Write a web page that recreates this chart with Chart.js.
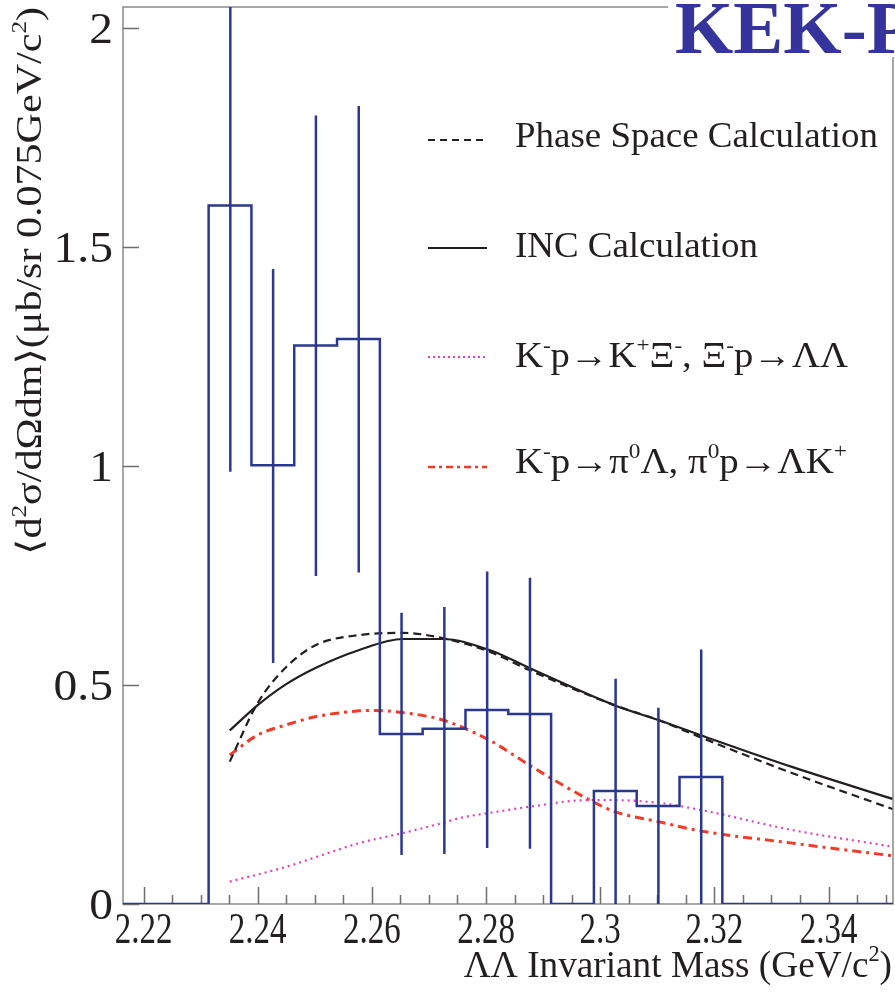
<!DOCTYPE html>
<html>
<head>
<meta charset="utf-8">
<script src="https://cdn.jsdelivr.net/npm/chart.js@4.4.1/dist/chart.umd.min.js"></script>
<style>
body { margin: 0; background: #fff; }
canvas { display: block; }
</style>
</head>
<body>
<canvas id="myChart" width="895" height="998"></canvas>
<script>
// axis ranges and ticks
const xMin = 2.2164, xMax = 2.3513;
const yMin = 0, yMax = 2.048;
const xTicks = [2.22, 2.24, 2.26, 2.28, 2.3, 2.32, 2.34];
const xTickLabels = ['2.22', '2.24', '2.26', '2.28', '2.3', '2.32', '2.34'];
const xMinorStep = 0.005;
const yTicks = [0, 0.5, 1, 1.5, 2];
const yTickLabels = ['0', '0.5', '1', '1.5', '2'];

// data histogram
const binEdges = [2.2314, 2.2389, 2.2464, 2.2539, 2.2614, 2.2689, 2.2764, 2.2839, 2.2914, 2.2989, 2.3064, 2.3139, 2.3214];
const binCenters = [2.2352, 2.2427, 2.2502, 2.2577, 2.2652, 2.2727, 2.2802, 2.2877, 2.2952, 2.3027, 2.3102, 2.3177];
const binValues = [1.595, 1.002, 1.275, 1.290, 0.388, 0.400, 0.443, 0.434, 0, 0.258, 0.224, 0.290];
const errLow = [0.987, 0.550, 0.749, 0.757, 0.112, 0.114, 0.128, 0.126, null, 0, 0, 0];
const errHigh = [2.21, 1.450, 1.800, 1.822, 0.665, 0.678, 0.759, 0.745, null, 0.514, 0.448, 0.581];

// calculations
const incX = [2.2351, 2.2400, 2.2450, 2.2503, 2.2578, 2.2654, 2.2724, 2.2806, 2.2876, 2.3025, 2.3102, 2.3175, 2.3336, 2.3512];
const incY = [0.396, 0.454, 0.502, 0.540, 0.580, 0.605, 0.605, 0.580, 0.539, 0.454, 0.420, 0.386, 0.313, 0.240];
const psX = [2.2351, 2.2400, 2.2450, 2.2503, 2.2578, 2.2654, 2.2724, 2.2806, 2.2876, 2.3025, 2.3102, 2.3175, 2.3336, 2.3512];
const psY = [0.325, 0.459, 0.541, 0.592, 0.614, 0.619, 0.607, 0.576, 0.534, 0.454, 0.420, 0.381, 0.299, 0.217];
const xiX = [2.2351, 2.2450, 2.2578, 2.2654, 2.2724, 2.2753, 2.2806, 2.2876, 2.2976, 2.3025, 2.3102, 2.3175, 2.3336, 2.3512];
const xiY = [0.051, 0.085, 0.139, 0.162, 0.185, 0.196, 0.208, 0.222, 0.237, 0.237, 0.231, 0.215, 0.169, 0.131];
const piX = [2.2351, 2.2400, 2.2450, 2.2503, 2.2578, 2.2604, 2.2654, 2.2724, 2.2806, 2.2876, 2.2975, 2.3025, 2.3102, 2.3175, 2.3336, 2.3512];
const piY = [0.340, 0.386, 0.409, 0.428, 0.441, 0.442, 0.437, 0.420, 0.374, 0.317, 0.242, 0.211, 0.188, 0.167, 0.139, 0.110];

const blue = '#2b3890';
const ink = '#231f20';
const serif = "'Liberation Serif', 'DejaVu Serif', serif";

function pts(xs, ys) {
  return xs.map((x, i) => ({x: x, y: ys[i]}));
}

// step line for the histogram
const histPoints = [{x: xMin, y: 0}];
binValues.forEach((v, i) => histPoints.push({x: binEdges[i], y: v}));
histPoints.push({x: binEdges[binEdges.length - 1], y: 0});
histPoints.push({x: xMax, y: 0});

// error bars, broken with nulls
const errPoints = [];
binCenters.forEach((c, i) => {
  if (errLow[i] === null) return;
  errPoints.push({x: c, y: errLow[i]}, {x: c, y: errHigh[i]}, {x: c, y: null});
});

function drawRich(ctx, segs, x, y, size, opt) {
  const weight = opt.bold ? 'bold ' : '';
  let w = 0;
  const parts = segs.map(s => {
    const sup = s[1] === 1;
    const fs = sup ? size * 0.6 : size;
    ctx.font = weight + fs + 'px ' + serif;
    const mw = ctx.measureText(s[0]).width;
    w += mw;
    return {t: s[0], fs: fs, mw: mw, dy: sup ? -size * 0.42 : 0};
  });
  let sx = opt.sx || 1;
  if (opt.width) sx = opt.width / w;
  ctx.save();
  ctx.translate(x, y);
  if (opt.rotate) ctx.rotate(opt.rotate);
  ctx.scale(sx, 1);
  let cx = opt.align === 'right' ? -w : opt.align === 'center' ? -w / 2 : 0;
  ctx.fillStyle = opt.color || ink;
  ctx.textAlign = 'left';
  ctx.textBaseline = 'alphabetic';
  parts.forEach(p => {
    ctx.font = weight + p.fs + 'px ' + serif;
    ctx.fillText(p.t, cx, p.dy);
    cx += p.mw;
  });
  ctx.restore();
}

const framePlugin = {
  id: 'frame',
  beforeDatasetsDraw(chart) {
    const ctx = chart.ctx, a = chart.chartArea;
    const xs = chart.scales.x, ys = chart.scales.y;
    ctx.save();
    ctx.strokeStyle = '#8a8a8a';
    ctx.lineWidth = 1.5;
    ctx.strokeRect(a.left, a.top, a.right - a.left, a.bottom - a.top);
    ctx.strokeStyle = '#6e6e6e';
    ctx.lineWidth = 1.5;
    ctx.beginPath();
    for (let t = xTicks[0]; t <= xMax + 1e-9; t += xMinorStep) {
      const px = Math.round(xs.getPixelForValue(t)) + 0.5;
      const major = xTicks.some(m => Math.abs(m - t) < 1e-6);
      ctx.moveTo(px, a.bottom);
      ctx.lineTo(px, a.bottom - (major ? 17 : 9));
    }
    yTicks.forEach(t => {
      const py = Math.round(ys.getPixelForValue(t)) + 0.5;
      ctx.moveTo(a.left, py);
      ctx.lineTo(a.left + 16, py);
    });
    ctx.stroke();
    ctx.restore();
  },
  afterDraw(chart) {
    const ctx = chart.ctx, a = chart.chartArea;
    const xs = chart.scales.x, ys = chart.scales.y;

    xTicks.forEach((t, i) => {
      drawRich(ctx, [[xTickLabels[i], 0]], xs.getPixelForValue(t), 943, 44, {align: 'center', sx: 0.75});
    });
    yTicks.forEach((t, i) => {
      drawRich(ctx, [[yTickLabels[i], 0]], 113, ys.getPixelForValue(t) + 15, 44, {align: 'right', sx: 1.08});
    });

    drawRich(ctx, [['ΛΛ Invariant Mass (GeV/c', 0], ['2', 1], [')', 0]], 892, 977, 38, {align: 'right', sx: 0.98});
    drawRich(ctx, [['⟨d', 0], ['2', 1], ['σ/dΩdm⟩(μb/sr 0.075GeV/c', 0], ['2', 1], [')', 0]],
      41, 555, 35, {rotate: -Math.PI / 2, width: 548});

    // legend
    const lx0 = 428, lx1 = 487, tx = 515;
    const items = [
      {y: 140, color: ink, dash: [7, 5], w: 2.2, ty: 147, width: 363,
        segs: [['Phase Space Calculation', 0]]},
      {y: 248, color: ink, dash: [], w: 2.2, ty: 257, width: 243,
        segs: [['INC Calculation', 0]]},
      {y: 357, color: '#e040c0', dash: [2, 3], w: 2, ty: 367, width: 333,
        segs: [['K', 0], ['-', 1], ['p→K', 0], ['+', 1], ['Ξ', 0], ['-', 1], [', Ξ', 0], ['-', 1], ['p→ΛΛ', 0]]},
      {y: 467, color: '#ee3b2a', dash: [7, 4, 3, 4], w: 2.5, ty: 473, width: 332,
        segs: [['K', 0], ['-', 1], ['p→π', 0], ['0', 1], ['Λ, π', 0], ['0', 1], ['p→ΛK', 0], ['+', 1]]}
    ];
    items.forEach(it => {
      ctx.save();
      ctx.strokeStyle = it.color;
      ctx.lineWidth = it.w;
      ctx.setLineDash(it.dash);
      ctx.beginPath();
      ctx.moveTo(lx0, it.y);
      ctx.lineTo(lx1, it.y);
      ctx.stroke();
      ctx.restore();
      drawRich(ctx, it.segs, tx, it.ty, 36, {width: it.width});
    });

    // experiment tag over the frame corner
    ctx.save();
    ctx.fillStyle = '#fff';
    ctx.fillRect(668, 0, 227, 57);
    ctx.restore();
    drawRich(ctx, [['KEK-P', 0]], 675, 53, 75, {bold: true, color: '#34349c'});
  }
};

const config = {
  type: 'line',
  data: {
    datasets: [
      {label: 'data', data: histPoints, stepped: 'before', borderColor: blue, borderWidth: 2.5, pointRadius: 0, fill: false},
      {label: 'errors', data: errPoints, borderColor: blue, borderWidth: 2.5, pointRadius: 0, spanGaps: false, fill: false},
      {label: 'Phase Space Calculation', data: pts(psX, psY), borderColor: ink, borderWidth: 2.2, borderDash: [8, 5],
        pointRadius: 0, cubicInterpolationMode: 'monotone', fill: false},
      {label: 'INC Calculation', data: pts(incX, incY), borderColor: ink, borderWidth: 2.2,
        pointRadius: 0, cubicInterpolationMode: 'monotone', fill: false},
      {label: 'Xi', data: pts(xiX, xiY), borderColor: '#e040c0', borderWidth: 2.2, borderDash: [2, 4],
        pointRadius: 0, cubicInterpolationMode: 'monotone', fill: false},
      {label: 'pi0', data: pts(piX, piY), borderColor: '#ee3b2a', borderWidth: 3, borderDash: [9, 5, 3, 5],
        pointRadius: 0, cubicInterpolationMode: 'monotone', fill: false}
    ]
  },
  options: {
    responsive: false,
    animation: false,
    devicePixelRatio: 1,
    layout: {padding: {left: 123, right: 2, top: 7, bottom: 94}},
    scales: {
      x: {type: 'linear', min: xMin, max: xMax, display: false},
      y: {type: 'linear', min: yMin, max: yMax, display: false}
    },
    plugins: {legend: {display: false}, tooltip: {enabled: false}}
  },
  plugins: [framePlugin]
};

const myChart = new Chart(document.getElementById('myChart'), config);
</script>
</body>
</html>
